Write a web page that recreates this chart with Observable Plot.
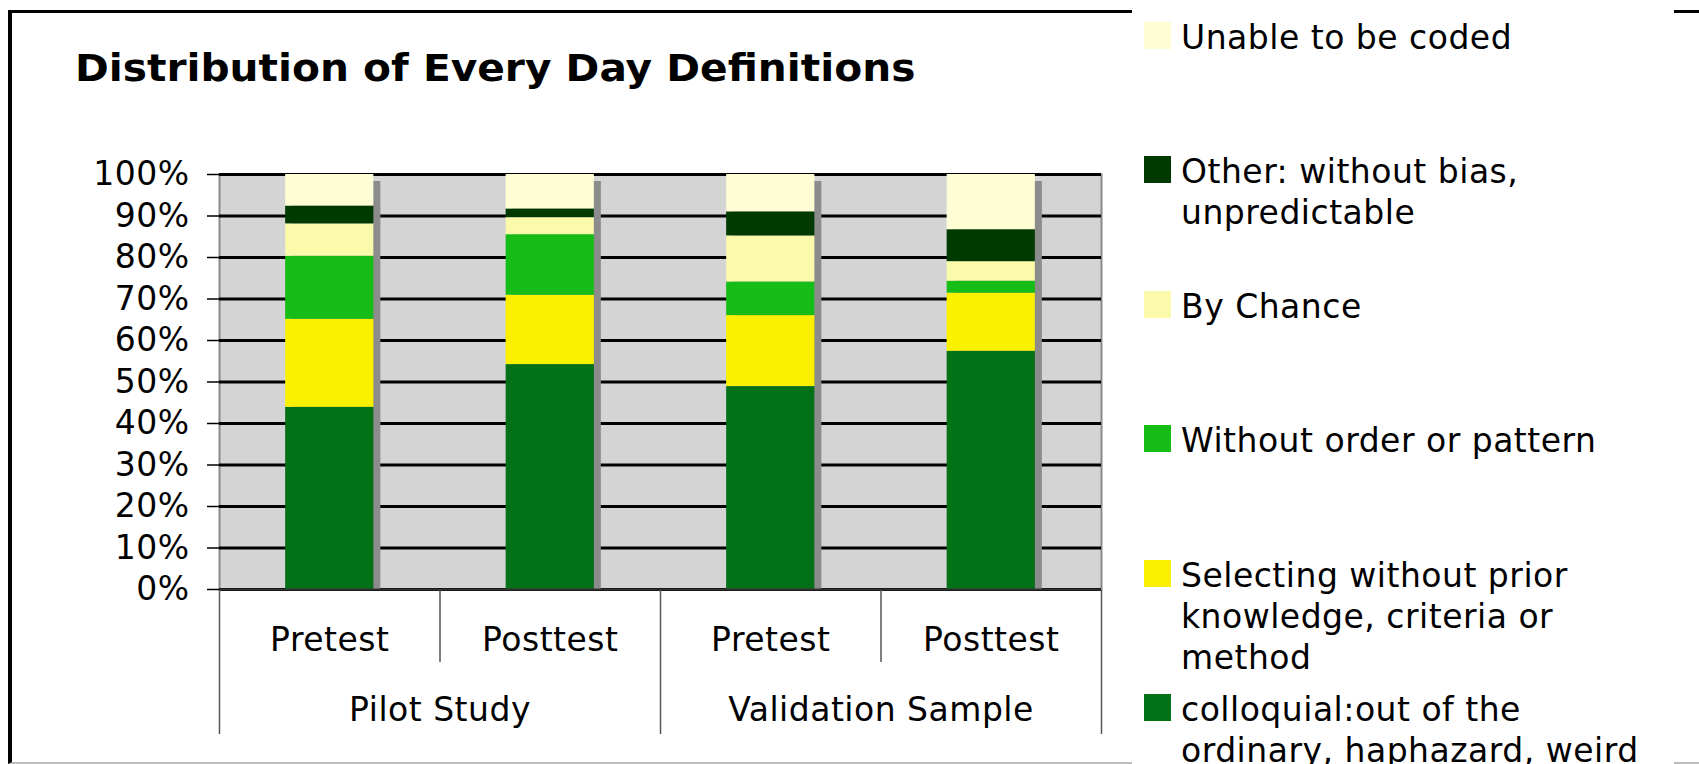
<!DOCTYPE html>
<html><head><meta charset="utf-8">
<script src="https://cdn.jsdelivr.net/npm/d3@7"></script>
<script src="https://cdn.jsdelivr.net/npm/@observablehq/plot@0.6"></script>
<style>
body{margin:0;background:#fff;}
#page{position:relative;width:1699px;height:764px;overflow:hidden;background:#fff;font-family:"DejaVu Sans",Verdana,sans-serif;color:#000;}
#frame{position:absolute;left:8px;top:10px;width:1800px;height:749px;border-left:4px solid #000;border-top:3px solid #000;border-bottom:2px solid #bdbdbd;}
#title{position:absolute;left:75px;top:50px;font-weight:bold;font-size:37px;line-height:1;white-space:nowrap;transform:scaleX(1.1);transform-origin:left center;}
#main{position:absolute;left:0;top:0;}
#cats{position:absolute;left:0;top:589px;}
#legend{position:absolute;left:1132px;top:0;width:542px;height:764px;background:#fff;}
.item{position:absolute;left:12px;}
.sw{position:absolute;left:0;top:0;width:27px;height:27px;}
.lab{position:absolute;left:37px;top:-5px;width:480px;font-size:33px;letter-spacing:0.5px;line-height:41px;}
</style>
</head>
<body>
<div id="page">
  <div id="frame"></div>
  <div id="main"></div>
  <div id="cats"></div>
  <div id="title"></div>
  <div id="legend"></div>
</div>
<script>
const title = "Distribution of Every Day Definitions";
const groups = ["Pilot Study", "Pilot Study", "Validation Sample", "Validation Sample"];
const phases = ["Pretest", "Posttest", "Pretest", "Posttest"];
const series = [
  "colloquial:out of the ordinary, haphazard, weird",
  "Selecting without prior knowledge, criteria or method",
  "Without order or pattern",
  "By Chance",
  "Other: without bias, unpredictable",
  "Unable to be coded"
];
const colors = ["#037116", "#faf000", "#17bd17", "#fafaaa", "#003a00", "#fefdd4"];
const colloquial = [43.9, 54.2, 48.9, 57.4];
const selecting = [21.2, 16.7, 17.1, 14.0];
const withoutOrder = [15.2, 14.6, 8.1, 2.9];
const byChance = [7.8, 4.1, 11.1, 4.7];
const other = [4.3, 2.1, 5.8, 7.7];
const unable = [7.6, 8.3, 9.0, 13.3];
const yTicks = [0, 10, 20, 30, 40, 50, 60, 70, 80, 90, 100];

const values = [colloquial, selecting, withoutOrder, byChance, other, unable];
const cats = phases.map((p, i) => groups[i] + " · " + p);
const data = series.flatMap((s, si) => values[si].map((v, i) => ({cat: cats[i], series: s, value: v})));

document.getElementById("title").textContent = title;

const baseStyle = {fontFamily: "DejaVu Sans", fontSize: "33px", letterSpacing: "0.5px", background: "transparent", color: "#000", overflow: "visible"};

const main = Plot.plot({
  width: 1120, height: 600,
  marginTop: 174, marginBottom: 11, marginLeft: 219, marginRight: 19,
  style: baseStyle,
  x: {type: "band", domain: cats, paddingInner: 0.6, paddingOuter: 0.3, round: false, axis: null},
  y: {domain: [0, 100]},
  color: {domain: series, range: colors},
  marks: [
    Plot.frame({fill: "#d4d4d4", stroke: "#8a8a8a", strokeWidth: 2}),
    Plot.ruleY(yTicks, {stroke: "#000", strokeWidth: 3}),
    Plot.barY(data, Plot.groupX({y: "sum"}, {x: "cat", y: "value", fill: "#8c8c8c", dx: 7, insetTop: 7})),
    Plot.barY(data, {x: "cat", y: "value", fill: "series"}),
    Plot.ruleY([0], {stroke: "#333", strokeWidth: 2}),
    Plot.axisY({ticks: yTicks, tickFormat: d => d + "%", tickSize: 12, tickPadding: 18, fontSize: 33, stroke: "#000", strokeWidth: 1.5, label: null})
  ]
});
document.getElementById("main").appendChild(main);

const phaseCells = phases.map((p, i) => ({x: i + 0.5, label: p}));
const groupNames = [...new Set(groups)];
const groupCells = groupNames.map(g => ({x: (groups.indexOf(g) + groups.lastIndexOf(g) + 1) / 2, label: g}));
const phaseBounds = d3.range(phases.length + 1);
const groupBounds = [0, ...groupNames.map(g => groups.lastIndexOf(g) + 1)];

const catPlot = Plot.plot({
  width: 1120, height: 150,
  marginTop: 1, marginBottom: 5, marginLeft: 219, marginRight: 19,
  style: baseStyle,
  x: {domain: [0, phases.length], axis: null},
  y: {type: "band", domain: ["phase", "group"], padding: 0, axis: null},
  marks: [
    Plot.tickX(phaseBounds, {x: d => d, y: () => "phase", stroke: "#555", strokeWidth: 1.5}),
    Plot.tickX(groupBounds, {x: d => d, y: () => "group", stroke: "#555", strokeWidth: 1.5}),
    Plot.text(phaseCells, {x: "x", y: () => "phase", text: "label", fontSize: 33, fill: "#000", dy: 14}),
    Plot.text(groupCells, {x: "x", y: () => "group", text: "label", fontSize: 33, fill: "#000", dy: 12})
  ]
});
document.getElementById("cats").appendChild(catPlot);

const legend = d3.select("#legend");
const order = series.map((s, i) => i).reverse();
order.forEach((si, k) => {
  const item = legend.append("div").attr("class", "item").style("top", (22 + k * 134.4) + "px");
  item.append("div").attr("class", "sw").style("background", colors[si]);
  item.append("div").attr("class", "lab").text(series[si]);
});
</script>
</body></html>
